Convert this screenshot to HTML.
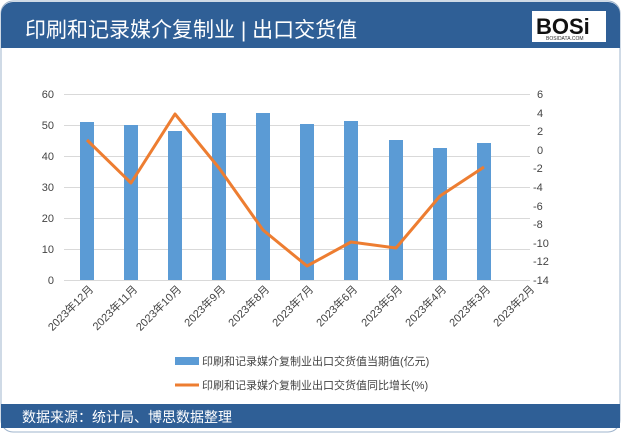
<!DOCTYPE html>
<html><head><meta charset="utf-8"><style>
body{margin:0;background:#fff;}
*{font-family:"Liberation Sans","Noto Sans CJK SC",sans-serif;}
</style></head><body>
<svg width="621" height="433" xmlns="http://www.w3.org/2000/svg" style="display:block">
<rect x="1" y="1" width="619" height="431" rx="12" fill="#fff" stroke="#9fb4cc"/>
<path d="M1,48 V14 a12,12 0 0 1 12,-12 H608 a12,12 0 0 1 12,12 V48 Z" fill="#2f5f96"/>
<text x="25" y="37" font-size="21" fill="#fff">印刷和记录媒介复制业 | 出口交货值</text>
<rect x="532" y="11" width="74" height="31" fill="#fff"/>
<text x="536" y="34" font-size="22" font-weight="bold" fill="#111">BOSi</text>
<text x="546" y="40" font-size="5" fill="#333">BOSIDATA.COM</text>
<rect x="1" y="404" width="619" height="24" fill="#2f5f96"/>
<text x="22" y="422" font-size="14" fill="#fff">数据来源：统计局、博思数据整理</text>
<g stroke="#d9d9d9" stroke-width="1">
<line x1="64" y1="94.5" x2="530" y2="94.5"/><line x1="64" y1="125.5" x2="530" y2="125.5"/>
<line x1="64" y1="156.5" x2="530" y2="156.5"/><line x1="64" y1="187.5" x2="530" y2="187.5"/>
<line x1="64" y1="218.5" x2="530" y2="218.5"/><line x1="64" y1="249.5" x2="530" y2="249.5"/>
<line x1="64" y1="280.5" x2="530" y2="280.5"/>
</g>
<g font-size="11" fill="#444" text-anchor="end">
<text x="54" y="98">60</text><text x="54" y="129">50</text><text x="54" y="160">40</text>
<text x="54" y="191">30</text><text x="54" y="222">20</text><text x="54" y="253">10</text><text x="54" y="284">0</text>
</g>
<g font-size="11" fill="#444" text-anchor="start">
<text x="537" y="98">6</text><text x="537" y="117">4</text><text x="537" y="135">2</text>
<text x="537" y="154">0</text><text x="533" y="172">-2</text><text x="533" y="191">-4</text>
<text x="533" y="210">-6</text><text x="533" y="228">-8</text><text x="533" y="247">-10</text>
<text x="533" y="265">-12</text><text x="533" y="284">-14</text>
</g>
<g fill="#5b9bd5">
<rect x="80" y="122" width="14" height="158"/>
<rect x="124" y="125" width="14" height="155"/>
<rect x="168" y="131" width="14" height="149"/>
<rect x="212" y="113" width="14" height="167"/>
<rect x="256" y="113" width="14" height="167"/>
<rect x="300" y="124" width="14" height="156"/>
<rect x="344" y="121" width="14" height="159"/>
<rect x="389" y="140" width="14" height="140"/>
<rect x="433" y="148" width="14" height="132"/>
<rect x="477" y="143" width="14" height="137"/>
</g>
<polyline points="87,140 131,183 175,114 219,168 263,230 307,266 351,242 396,248 440,196 484,167" fill="none" stroke="#ed7d31" stroke-width="3" stroke-linejoin="round"/>
<g font-size="11" fill="#444" text-anchor="end">
<text transform="translate(94,290) rotate(-45)">2023年12月</text>
<text transform="translate(138,290) rotate(-45)">2023年11月</text>
<text transform="translate(182,290) rotate(-45)">2023年10月</text>
<text transform="translate(226,290) rotate(-45)">2023年9月</text>
<text transform="translate(270,290) rotate(-45)">2023年8月</text>
<text transform="translate(314,290) rotate(-45)">2023年7月</text>
<text transform="translate(358,290) rotate(-45)">2023年6月</text>
<text transform="translate(403,290) rotate(-45)">2023年5月</text>
<text transform="translate(447,290) rotate(-45)">2023年4月</text>
<text transform="translate(491,290) rotate(-45)">2023年3月</text>
<text transform="translate(535,290) rotate(-45)">2023年2月</text>
</g>
<rect x="175" y="357" width="24" height="8" fill="#5b9bd5"/>
<text x="202" y="365" font-size="11" fill="#444">印刷和记录媒介复制业出口交货值当期值(亿元)</text>
<line x1="175" y1="385" x2="199" y2="385" stroke="#ed7d31" stroke-width="3"/>
<text x="202" y="389" font-size="11" fill="#444">印刷和记录媒介复制业出口交货值同比增长(%)</text>
</svg>
</body></html>
